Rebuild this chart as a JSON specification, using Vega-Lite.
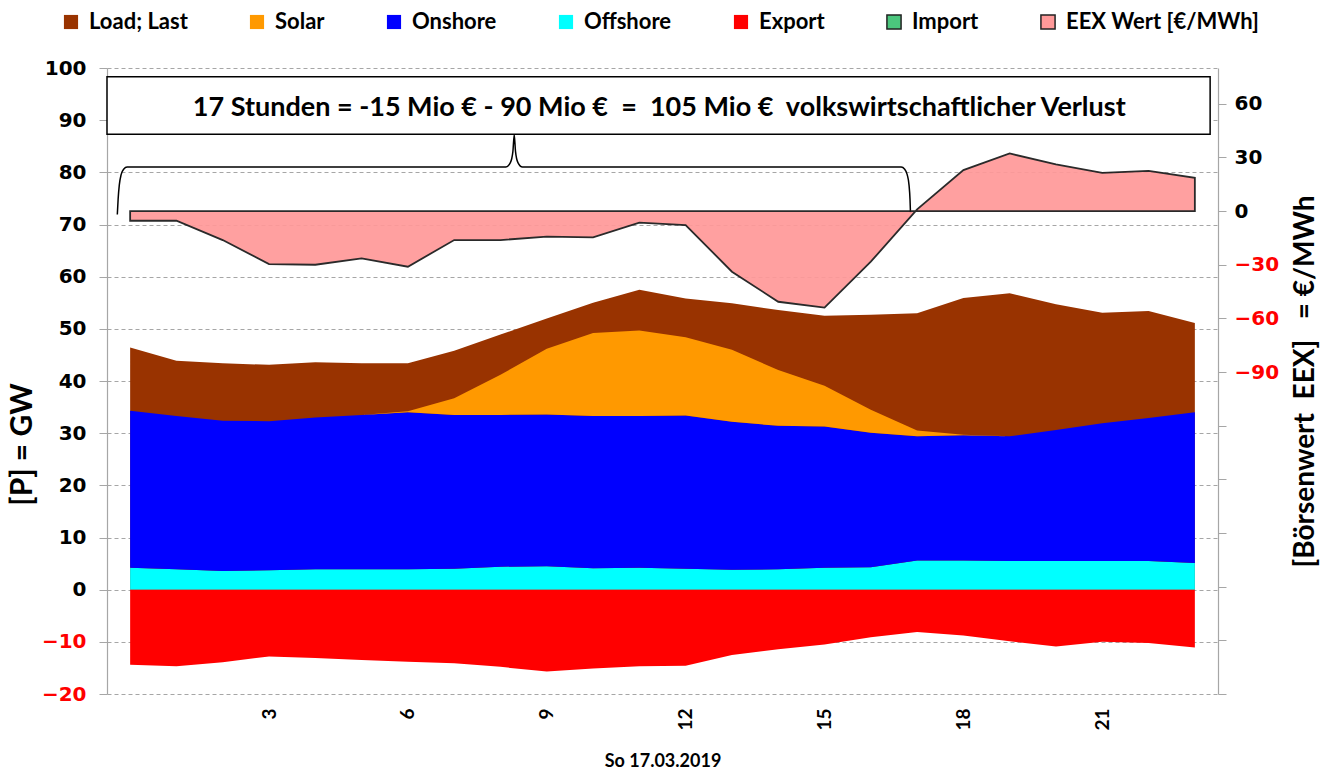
{
  "$schema": "https://vega.github.io/schema/vega-lite/v6.json",
  "autosize": {"type": "none"},
  "width": 1111,
  "height": 626,
  "padding": {"left": 107, "top": 68, "right": 120, "bottom": 80},
  "background": "white",
  "config": {"view": {"stroke": null}},
  "datasets": {
    "power": [
      {"hour": 0, "load": 46.4, "Offshore": 4.2, "Onshore": 30.1, "Solar": 0, "export": -14.4, "eex": -5.4},
      {"hour": 1, "load": 43.9, "Offshore": 3.9, "Onshore": 29.4, "Solar": 0, "export": -14.7, "eex": -5.4},
      {"hour": 2, "load": 43.4, "Offshore": 3.6, "Onshore": 28.8, "Solar": 0, "export": -13.9, "eex": -16.2},
      {"hour": 3, "load": 43.1, "Offshore": 3.7, "Onshore": 28.6, "Solar": 0, "export": -12.8, "eex": -29.6},
      {"hour": 4, "load": 43.6, "Offshore": 3.9, "Onshore": 29.1, "Solar": 0, "export": -13.1, "eex": -30.0},
      {"hour": 5, "load": 43.4, "Offshore": 3.9, "Onshore": 29.6, "Solar": 0, "export": -13.5, "eex": -26.4},
      {"hour": 6, "load": 43.4, "Offshore": 3.9, "Onshore": 30.1, "Solar": 0.2, "export": -13.8, "eex": -31.1},
      {"hour": 7, "load": 45.8, "Offshore": 4.0, "Onshore": 29.5, "Solar": 3.2, "export": -14.1, "eex": -16.2},
      {"hour": 8, "load": 48.9, "Offshore": 4.4, "Onshore": 29.1, "Solar": 7.7, "export": -14.8, "eex": -16.2},
      {"hour": 9, "load": 52.0, "Offshore": 4.5, "Onshore": 29.1, "Solar": 12.6, "export": -15.7, "eex": -14.3},
      {"hour": 10, "load": 55.0, "Offshore": 4.1, "Onshore": 29.2, "Solar": 15.9, "export": -15.1, "eex": -14.7},
      {"hour": 11, "load": 57.5, "Offshore": 4.2, "Onshore": 29.1, "Solar": 16.4, "export": -14.7, "eex": -6.5},
      {"hour": 12, "load": 55.8, "Offshore": 4.0, "Onshore": 29.4, "Solar": 15.0, "export": -14.6, "eex": -7.8},
      {"hour": 13, "load": 54.9, "Offshore": 3.8, "Onshore": 28.4, "Solar": 13.8, "export": -12.5, "eex": -33.9},
      {"hour": 14, "load": 53.6, "Offshore": 3.9, "Onshore": 27.5, "Solar": 10.7, "export": -11.4, "eex": -50.7},
      {"hour": 15, "load": 52.5, "Offshore": 4.2, "Onshore": 27.1, "Solar": 7.8, "export": -10.5, "eex": -54.0},
      {"hour": 16, "load": 52.7, "Offshore": 4.3, "Onshore": 25.8, "Solar": 4.4, "export": -9.1, "eex": -28.3},
      {"hour": 17, "load": 53.0, "Offshore": 5.6, "Onshore": 23.8, "Solar": 1.1, "export": -8.1, "eex": 1.0},
      {"hour": 18, "load": 55.9, "Offshore": 5.6, "Onshore": 24.0, "Solar": 0.1, "export": -8.8, "eex": 22.9},
      {"hour": 19, "load": 56.8, "Offshore": 5.5, "Onshore": 23.9, "Solar": 0, "export": -9.9, "eex": 32.2},
      {"hour": 20, "load": 54.7, "Offshore": 5.5, "Onshore": 25.1, "Solar": 0, "export": -10.9, "eex": 26.1},
      {"hour": 21, "load": 53.1, "Offshore": 5.5, "Onshore": 26.4, "Solar": 0, "export": -10.0, "eex": 21.4},
      {"hour": 22, "load": 53.4, "Offshore": 5.5, "Onshore": 27.4, "Solar": 0, "export": -10.2, "eex": 22.5},
      {"hour": 23, "load": 51.1, "Offshore": 5.1, "Onshore": 28.9, "Solar": 0, "export": -11.1, "eex": 18.6}
    ],
    "brace": [
      {"bx": -0.277, "by": 71.9},
      {"bx": -0.26, "by": 74.8},
      {"bx": -0.234, "by": 77.6},
      {"bx": -0.195, "by": 79.55},
      {"bx": -0.141, "by": 80.6},
      {"bx": -0.065, "by": 81.0},
      {"bx": 8.117, "by": 81.0},
      {"bx": 8.214, "by": 81.85},
      {"bx": 8.268, "by": 83.96},
      {"bx": 8.297, "by": 87.2},
      {"bx": 8.325, "by": 83.96},
      {"bx": 8.377, "by": 81.85},
      {"bx": 8.474, "by": 81.0},
      {"bx": 16.656, "by": 81.0},
      {"bx": 16.732, "by": 80.6},
      {"bx": 16.786, "by": 79.55},
      {"bx": 16.825, "by": 77.6},
      {"bx": 16.847, "by": 74.8},
      {"bx": 16.857, "by": 72.2}
    ],
    "note": [
      {"hour": 11.43, "gw": 92.3, "label": "17 Stunden = -15 Mio € - 90 Mio €\u00a0\u00a0=\u00a0\u00a0105 Mio €\u00a0\u00a0volkswirtschaftlicher Verlust"}
    ]
  },
  "resolve": {"scale": {"y": "independent"}},
  "layer": [
    {
      "layer": [
        {
          "data": {"name": "power"},
          "mark": {"type": "area", "opacity": 1},
          "encoding": {
            "x": {
              "field": "hour", "type": "quantitative",
              "scale": {"domain": [-0.5, 23.5], "nice": false, "zero": false},
              "axis": {
                "values": [3, 6, 9, 12, 15, 18, 21],
                "labelAngle": 270, "labelAlign": "right", "labelBaseline": "middle",
                "labelFont": "Lato", "labelFontWeight": "bold", "labelFontSize": 19, "labelColor": "#000000",
                "labelPadding": 14, "ticks": false, "domain": false, "grid": false,
                "title": "So 17.03.2019", "titleFont": "Lato", "titleFontWeight": "bold", "titleFontSize": 18,
                "titleColor": "#000000", "titleY": 67, "titleBaseline": "middle"
              }
            },
            "y": {
              "field": "load", "type": "quantitative",
              "scale": {"domain": [-20, 100], "nice": false, "zero": false},
              "axis": {
                "values": [-20, -15, -10, -5, 0, 5, 10, 15, 20, 25, 30, 35, 40, 45, 50, 55, 60, 65, 70, 75, 80, 85, 90, 95, 100],
                "labelExpr": "datum.value % 10 === 0 ? datum.label : ''",
                "labelOverlap": false, "labelBound": false,
                "labelFont": "DejaVu Sans", "labelFontWeight": "bold", "labelFontSize": 20,
                "labelColor": {"condition": {"test": "datum.value < 0", "value": "#FF0000"}, "value": "#000000"},
                "labelPadding": 13,
                "tickSize": 8, "tickColor": "#A6A6A6",
                "tickOpacity": {"condition": {"test": "datum.value % 10 !== 0", "value": 0}, "value": 1},
                "domainColor": "#A6A6A6", "domainWidth": 1.2,
                "grid": true, "gridDash": [4, 3],
                "gridColor": {"condition": {"test": "datum.value % 10 === 0", "value": "#A6A6A6"}, "value": "#C8C8C8"},
                "gridWidth": 1,
                "title": "[P] = GW", "titleFont": "Lato", "titleFontWeight": "bold", "titleFontSize": 30,
                "titleColor": "#000000", "titleAngle": 270, "titleX": -85, "titleY": 376,
                "titleAlign": "center", "titleBaseline": "middle"
              }
            },
            "y2": {"datum": 0},
            "color": {
              "datum": "Load; Last",
              "title": null,
              "scale": {
                "domain": ["Load; Last", "Solar", "Onshore", "Offshore", "Export", "Import", "EEX Wert [€/MWh]"],
                "range": ["#993300", "#FF9900", "#0000FF", "#00FFFF", "#FF0000", "#4BC67D", "#FF9999"]
              },
              "legend": {
                "orient": "none", "legendX": -47, "legendY": -57, "direction": "horizontal",
                "title": null, "symbolType": "square", "symbolSize": 200, "symbolOpacity": 1,
                "labelFont": "Lato", "labelFontWeight": "bold", "labelFontSize": 22, "labelColor": "#000000",
                "labelOffset": 7, "columnPadding": 58, "padding": 0, "labelLimit": 400,
                "encode": {
                  "symbols": {
                    "update": {
                      "stroke": {"signal": "datum.value === 'Import' || datum.value === 'EEX Wert [€/MWh]' ? '#222222' : 'transparent'"},
                      "strokeWidth": {"value": 1.5}
                    }
                  }
                }
              }
            }
          }
        },
        {
          "data": {"name": "power"},
          "transform": [{"fold": ["Offshore", "Onshore", "Solar"], "as": ["series", "gw"]}],
          "mark": {"type": "area", "opacity": 1},
          "encoding": {
            "x": {"field": "hour", "type": "quantitative"},
            "y": {"field": "gw", "type": "quantitative", "stack": "zero"},
            "color": {"field": "series", "type": "nominal", "title": null},
            "order": {"field": "series", "sort": "ascending"}
          }
        },
        {
          "data": {"name": "power"},
          "mark": {"type": "area", "opacity": 1},
          "encoding": {
            "x": {"field": "hour", "type": "quantitative"},
            "y": {"field": "export", "type": "quantitative"},
            "y2": {"datum": 0},
            "color": {"datum": "Export", "title": null}
          }
        },
        {
          "mark": {"type": "rule", "color": "#7F7F7F", "strokeWidth": 1.6},
          "encoding": {"y": {"datum": 0}}
        },
        {
          "mark": {"type": "rule", "color": "#A6A6A6", "strokeWidth": 1.2, "clip": false},
          "encoding": {"x": {"datum": -0.5}, "y": {"datum": -20}, "y2": {"datum": -35.4}}
        },
        {
          "mark": {"type": "rule", "color": "#A6A6A6", "strokeWidth": 1.2, "clip": false},
          "encoding": {"x": {"datum": 23.5}, "y": {"datum": -20}, "y2": {"datum": -35.4}}
        },
        {
          "data": {"name": "note"},
          "mark": {"type": "rect", "fill": "#FFFFFF", "stroke": "#000000", "strokeWidth": 1.5, "opacity": 1},
          "encoding": {
            "x": {"datum": -0.5, "type": "quantitative"},
            "x2": {"datum": 23.33},
            "y": {"datum": 98.3, "type": "quantitative"},
            "y2": {"datum": 87.3}
          }
        },
        {
          "data": {"name": "note"},
          "mark": {"type": "text", "font": "Lato", "fontWeight": "bold", "fontSize": 27, "color": "#000000", "align": "center", "baseline": "middle"},
          "encoding": {
            "x": {"field": "hour", "type": "quantitative"},
            "y": {"field": "gw", "type": "quantitative"},
            "text": {"field": "label"}
          }
        },
        {
          "data": {"name": "brace"},
          "mark": {"type": "line", "color": "#000000", "strokeWidth": 1.5, "interpolate": "monotone"},
          "encoding": {
            "x": {"field": "bx", "type": "quantitative"},
            "y": {"field": "by", "type": "quantitative"}
          }
        }
      ]
    },
    {
      "data": {"name": "power"},
      "mark": {"type": "area", "stroke": "#1A1A1A", "strokeWidth": 1.8, "opacity": 0.93},
      "encoding": {
        "x": {"field": "hour", "type": "quantitative"},
        "y": {
          "field": "eex", "type": "quantitative",
          "scale": {"domain": [-270, 80], "nice": false, "zero": false},
          "axis": {
            "orient": "right",
            "values": [-270, -240, -210, -180, -150, -120, -90, -60, -30, 0, 30, 60],
            "labelExpr": "datum.value >= -90 ? datum.label : ''",
            "labelOverlap": false, "labelBound": false,
            "labelFont": "DejaVu Sans", "labelFontWeight": "bold", "labelFontSize": 20,
            "labelColor": {"condition": {"test": "datum.value < 0", "value": "#FF0000"}, "value": "#000000"},
            "labelPadding": 8,
            "tickSize": 8, "tickColor": "#A6A6A6",
            "domainColor": "#A6A6A6", "domainWidth": 1.2, "grid": false,
            "title": "[Börsenwert\u00a0\u00a0EEX]\u00a0\u00a0\u00a0=\u00a0€/MWh", "titleFont": "Lato", "titleFontWeight": "bold", "titleFontSize": 28,
            "titleColor": "#000000", "titleAngle": 270, "titleX": 87, "titleY": 313,
            "titleAlign": "center", "titleBaseline": "middle"
          }
        },
        "y2": {"datum": 0},
        "color": {"datum": "EEX Wert [€/MWh]", "title": null}
      }
    }
  ]
}
